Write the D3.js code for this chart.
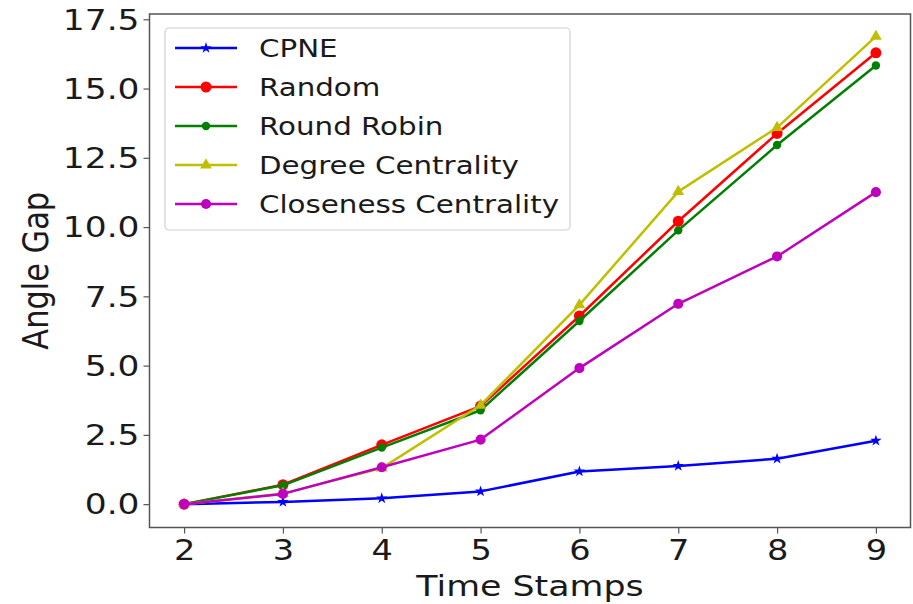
<!DOCTYPE html>
<html><head><meta charset="utf-8">
<script src="https://cdn.jsdelivr.net/npm/d3@7"></script>
<style>
body{margin:0;background:#fff;}
text{font-family:"DejaVu Sans",sans-serif;fill:#1a1a1a;}
</style></head>
<body>
<svg id="chart" width="913" height="604"></svg>
<script>
const timeStamps = [2,3,4,5,6,7,8,9];
const seriesNames = ["CPNE","Random","Round Robin","Degree Centrality","Closeness Centrality"];
const cpne       = [0, 0.08, 0.21, 0.46, 1.18, 1.38, 1.64, 2.29];
const random     = [0, 0.70, 2.14, 3.54, 6.79, 10.21, 13.38, 16.29];
const roundRobin = [0, 0.68, 2.04, 3.39, 6.61, 9.88, 12.96, 15.83];
const degree     = [0, 0.38, 1.30, 3.57, 7.19, 11.28, 13.59, 16.88];
const closeness  = [0, 0.37, 1.33, 2.33, 4.91, 7.23, 8.94, 11.26];
const yTicks = [0, 2.5, 5, 7.5, 10, 12.5, 15, 17.5];
const xLabel = "Time Stamps";
const yLabel = "Angle Gap";

const seriesValues = [cpne, random, roundRobin, degree, closeness];
const colors = ["#0000ff","#ff0000","#008000","#bfbf00","#bf00bf"];
const markers = ["star","circle","dot","triangle","hex"];

const svg = d3.select("#chart");
const L = 149.5, R = 910.5, T = 14, B = 527.5;
const x = d3.scaleLinear().domain([1.65, 9.35]).range([L, R]);
const y = d3.scaleLinear().domain([-0.843, 17.69]).range([B, T]);
const SX = 1.2;

// axes
const xAxis = svg.append("g").attr("transform", `translate(0,${B})`)
  .call(d3.axisBottom(x).tickValues(timeStamps).tickSize(6).tickPadding(4).tickFormat(d3.format("d")));
const yAxis = svg.append("g").attr("transform", `translate(${L},0)`)
  .call(d3.axisLeft(y).tickValues(yTicks).tickSize(6).tickPadding(4).tickFormat(d3.format(".1f")));
[xAxis, yAxis].forEach(g => {
  g.select(".domain").remove();
  g.selectAll(".tick line").attr("stroke", "#555").attr("stroke-width", 1.2);
  g.selectAll(".tick text").attr("font-size", 28).attr("fill", "#1a1a1a")
    .attr("font-family", "DejaVu Sans");
});
xAxis.selectAll(".tick text").attr("dy", null).attr("y", null)
  .attr("transform", `translate(0,32) scale(${SX},1)`);
yAxis.selectAll(".tick text").attr("x", null).attr("dy", "0.35em")
  .attr("transform", `translate(-10,0) scale(1.23,1)`);

// frame
svg.append("rect").attr("x", L).attr("y", T).attr("width", R - L).attr("height", B - T)
  .attr("fill", "none").attr("stroke", "#555").attr("stroke-width", 1.5);

// axis labels
svg.append("text").attr("transform", `translate(${(L+R)/2},${B+68}) scale(${SX},1)`)
  .attr("text-anchor", "middle").attr("font-size", 29).text(xLabel);
svg.append("text").attr("transform", `translate(48,${(T+B)/2}) rotate(-90) scale(1.05,1.2)`)
  .attr("text-anchor", "middle").attr("font-size", 29).text(yLabel);

function drawMarker(g, type, color, cx, cy) {
  if (type === "circle") g.append("circle").attr("cx", cx).attr("cy", cy).attr("r", 5.5).attr("fill", color);
  else if (type === "dot") g.append("circle").attr("cx", cx).attr("cy", cy).attr("r", 4.2).attr("fill", color);
  else if (type === "hex") g.append("path").attr("d", d3.symbol().type(d3.symbolCircle).size(80)()).attr("transform", `translate(${cx},${cy})`).attr("fill", color);
  else if (type === "star") g.append("path").attr("d", d3.symbol().type(d3.symbolStar).size(40)()).attr("transform", `translate(${cx},${cy})`).attr("fill", color);
  else if (type === "triangle") g.append("path").attr("d", d3.symbol().type(d3.symbolTriangle).size(60)()).attr("transform", `translate(${cx},${cy})`).attr("fill", color);
}

const line = d3.line().x((d, i) => x(timeStamps[i])).y(d => y(d));
seriesValues.forEach((vals, k) => {
  const g = svg.append("g");
  g.append("path").attr("d", line(vals)).attr("fill", "none")
    .attr("stroke", colors[k]).attr("stroke-width", 2.5).attr("stroke-linejoin", "round");
  vals.forEach((v, i) => drawMarker(g, markers[k], colors[k], x(timeStamps[i]), y(v)));
});

// legend
const lg = svg.append("g");
lg.append("rect").attr("x", 165).attr("y", 28).attr("width", 405).attr("height", 202)
  .attr("rx", 4).attr("fill", "#fff").attr("fill-opacity", 0.8).attr("stroke", "#d0d0d0").attr("stroke-width", 1.2);
seriesNames.forEach((name, k) => {
  const cy = 48 + k * 39;
  lg.append("line").attr("x1", 175).attr("x2", 237).attr("y1", cy).attr("y2", cy)
    .attr("stroke", colors[k]).attr("stroke-width", 2.5);
  drawMarker(lg, markers[k], colors[k], 206, cy);
  lg.append("text").attr("transform", `translate(259,${cy}) scale(1.15,1)`).attr("dy", "0.36em")
    .attr("font-size", 25.5).text(name);
});
</script>
</body></html>
